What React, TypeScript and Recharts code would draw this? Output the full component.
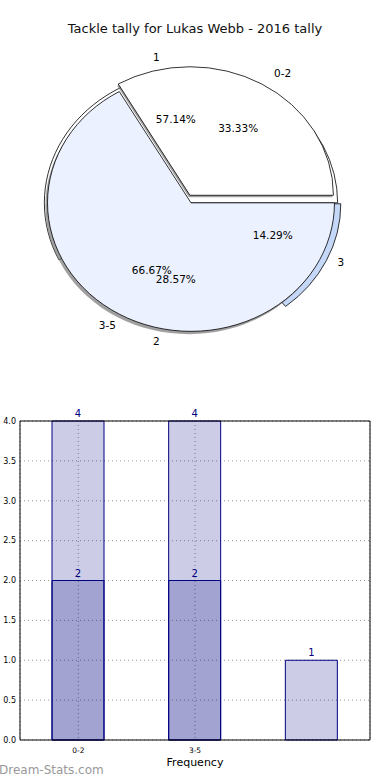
import React from "react";
import {
  PieChart,
  Pie,
  Cell,
  BarChart,
  Bar,
  XAxis,
  YAxis,
  CartesianGrid,
  LabelList,
} from "recharts";

// pie data
const rangeNames = ["0-2", "3-5"];
const rangeValues = [2, 4];
const tallyNames = ["1", "2", "3"];
const tallyValues = [4, 2, 1];

// bar data
const barCategories = ["0-2", "3-5", ""];
const totalTackles = [4, 4, 1];
const tallyTackles = [2, 2, null];
const yTicks = [0, 0.5, 1, 1.5, 2, 2.5, 3, 3.5, 4];
const xTicks = ["0-2", "3-5"];

const rangeData = rangeNames.map((name, i) => ({ name, value: rangeValues[i] }));
const tallyData = tallyNames.map((name, i) => ({ name, value: tallyValues[i] }));
const barData = barCategories.map((name, i) => ({
  name,
  total: totalTackles[i],
  tally: tallyTackles[i],
}));

const FONT = "DejaVu Sans, sans-serif";
const RAD = Math.PI / 180;
const R = 136;
const BLUE = "#EBF1FE";
const DARK_BLUE = "#C6D8F8";
const NO_MARGIN = { top: 0, right: 0, bottom: 0, left: 0 };

// matplotlib pie without equal aspect -> squashed circle
const SX = 1.055;
const SY = 0.945;

const makeLabel = (kx: number, ky: number) => (props: any) => {
  const { cx, cy, midAngle, outerRadius, name, percent } = props;
  const a = midAngle * RAD;
  const ro = outerRadius * 1.1;
  const ri = outerRadius * 0.6;
  const xo = cx + ro * kx * Math.cos(a);
  const yo = cy - ro * ky * Math.sin(a);
  const xi = cx + ri * kx * Math.cos(a);
  const yi = cy - ri * 1.0 * Math.sin(a);
  return (
    <g fontSize={10.5} fontFamily={FONT} fill="#000">
      <text
        x={xo}
        y={yo}
        textAnchor={xo > cx ? "start" : "end"}
        dominantBaseline="central"
      >
        {name}
      </text>
      <text x={xi} y={yi} textAnchor="middle" dominantBaseline="central">
        {`${(percent * 100).toFixed(2)}%`}
      </text>
    </g>
  );
};

const renderLabel = makeLabel(1.05, 0.965);

const PieShapes = () => (
  <PieChart width={390} height={370} margin={NO_MARGIN}>
    {/* tally pie, mostly hidden behind */}
    <Pie
      data={tallyData}
      dataKey="value"
      cx={191}
      cy={203}
      outerRadius={R + 3}
      isAnimationActive={false}
      labelLine={false}
    >
      <Cell fill="#fff" stroke="#000" strokeWidth={0.8} />
      <Cell fill="none" stroke="none" />
      <Cell fill="none" stroke="none" />
    </Pie>
    <Pie
      data={tallyData}
      dataKey="value"
      cx={194}
      cy={204}
      outerRadius={R + 3}
      isAnimationActive={false}
      labelLine={false}
    >
      <Cell fill="none" stroke="none" />
      <Cell fill="none" stroke="none" />
      <Cell fill={DARK_BLUE} stroke="#000" strokeWidth={0.8} />
    </Pie>
    {/* shadows */}
    <Pie
      data={rangeData}
      dataKey="value"
      cx={189}
      cy={206}
      outerRadius={R}
      isAnimationActive={false}
      labelLine={false}
    >
      <Cell fill="none" stroke="none" />
      <Cell fill="#777" fillOpacity={0.7} stroke="none" />
    </Pie>
    <Pie
      data={rangeData}
      dataKey="value"
      cx={189}
      cy={197}
      outerRadius={R}
      isAnimationActive={false}
      labelLine={false}
    >
      <Cell fill="#777" fillOpacity={0.7} stroke="none" />
      <Cell fill="none" stroke="none" />
    </Pie>
    {/* range pie */}
    <Pie
      data={rangeData}
      dataKey="value"
      cx={191}
      cy={203}
      outerRadius={R}
      isAnimationActive={false}
      labelLine={false}
    >
      <Cell fill="none" stroke="none" />
      <Cell fill={BLUE} stroke="#000" strokeWidth={0.8} />
    </Pie>
    <Pie
      data={rangeData}
      dataKey="value"
      cx={190}
      cy={195}
      outerRadius={R}
      isAnimationActive={false}
      labelLine={false}
    >
      <Cell fill="#fff" stroke="#000" strokeWidth={0.8} />
      <Cell fill="none" stroke="none" />
    </Pie>
  </PieChart>
);

const PieLabels = () => (
  <PieChart width={390} height={370} margin={NO_MARGIN}>
    <Pie
      data={rangeData}
      dataKey="value"
      cx={195}
      cy={199}
      outerRadius={137}
      fill="none"
      stroke="none"
      isAnimationActive={false}
      labelLine={false}
      label={renderLabel}
    />
    <Pie
      data={tallyData}
      dataKey="value"
      cx={195}
      cy={199}
      outerRadius={137}
      fill="none"
      stroke="none"
      isAnimationActive={false}
      labelLine={false}
      label={renderLabel}
    />
  </PieChart>
);

const BarLayers = () => (
  <BarChart
    width={390}
    height={380}
    data={barData}
    margin={{ top: 20, right: 19, left: 0, bottom: 0 }}
  >
    <CartesianGrid
      xAxisId="main"
      yAxisId="left"
      stroke="#999"
      strokeDasharray="1 3"
    />
    <XAxis
      xAxisId="main"
      dataKey="name"
      ticks={xTicks}
      height={40}
      tick={{ fontSize: 7.5, fill: "#000", fontFamily: FONT }}
      tickLine={false}
      tickMargin={2}
      axisLine={{ stroke: "#000" }}
      label={{
        value: "Frequency",
        position: "insideBottom",
        offset: 14,
        fontSize: 11,
        fill: "#000",
        fontFamily: FONT,
      }}
    />
    <XAxis
      xAxisId="over"
      dataKey="name"
      orientation="top"
      height={1}
      tick={false}
      tickLine={false}
      axisLine={{ stroke: "#000" }}
    />
    <YAxis
      yAxisId="left"
      domain={[0, 4]}
      ticks={yTicks}
      width={20}
      tickFormatter={(v: number) => v.toFixed(1)}
      tick={{ fontSize: 8, fill: "#000", fontFamily: FONT }}
      tickLine={false}
      tickSize={0}
      tickMargin={4}
      axisLine={{ stroke: "#000" }}
    />
    <YAxis
      yAxisId="right"
      orientation="right"
      domain={[0, 4]}
      width={1}
      tick={false}
      tickLine={false}
      axisLine={{ stroke: "#000" }}
    />
    <Bar
      xAxisId="main"
      yAxisId="left"
      dataKey="total"
      barSize={52}
      fill="navy"
      fillOpacity={0.2}
      stroke="navy"
      strokeWidth={1}
      isAnimationActive={false}
    >
      <LabelList
        dataKey="total"
        position="top"
        offset={4}
        fill="navy"
        fontSize={10}
        fontFamily={FONT}
      />
    </Bar>
    <Bar
      xAxisId="over"
      yAxisId="left"
      dataKey="tally"
      barSize={52}
      fill="navy"
      fillOpacity={0.2}
      stroke="navy"
      strokeWidth={1}
      isAnimationActive={false}
    >
      <LabelList
        dataKey="tally"
        position="top"
        offset={4}
        fill="navy"
        fontSize={10}
        fontFamily={FONT}
      />
    </Bar>
  </BarChart>
);

export default function App() {
  return (
    <div
      style={{
        position: "absolute",
        left: 0,
        top: 0,
        width: 390,
        height: 780,
        background: "#fff",
        overflow: "hidden",
        fontFamily: FONT,
      }}
    >
      <div
        style={{
          position: "absolute",
          top: 21,
          left: 0,
          width: 390,
          textAlign: "center",
          fontSize: 13,
          color: "#111",
        }}
      >
        Tackle tally for Lukas Webb - 2016 tally
      </div>
      <div
        style={{
          position: "absolute",
          left: 0,
          top: 0,
          transform: `scale(${SX}, ${SY})`,
          transformOrigin: "191px 200px",
        }}
      >
        <PieShapes />
      </div>
      <div style={{ position: "absolute", left: 0, top: 0 }}>
        <PieLabels />
      </div>
      <div style={{ position: "absolute", left: 0, top: 400 }}>
        <BarLayers />
      </div>
      <div
        style={{
          position: "absolute",
          left: -1,
          top: 763,
          fontSize: 12,
          color: "#999",
        }}
      >
        Dream-Stats.com
      </div>
    </div>
  );
}
